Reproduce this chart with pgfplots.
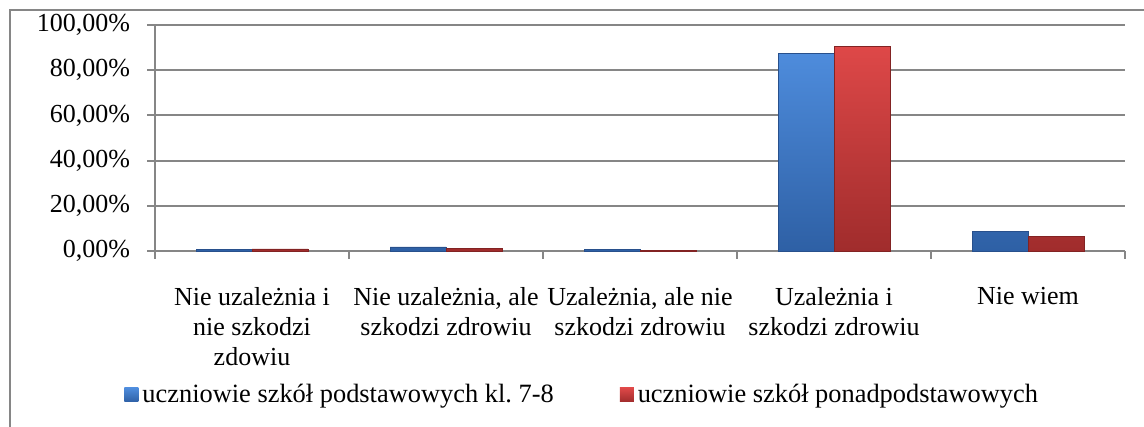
\documentclass[border=0pt]{standalone}
\usepackage{pgfplots}
\pgfplotsset{compat=1.18}
\usepackage{fontspec}
\setmainfont{Liberation Serif}
\frenchspacing
\definecolor{gridc}{RGB}{134,134,134}
\definecolor{bluetop}{RGB}{78,140,220}
\definecolor{bluebot}{RGB}{46,96,165}
\definecolor{blueedge}{RGB}{40,80,140}
\definecolor{redtop}{RGB}{222,72,72}
\definecolor{redbot}{RGB}{160,44,44}
\definecolor{rededge}{RGB}{130,35,35}
\begin{document}
\fontsize{13}{15}\selectfont
\begin{tikzpicture}
\path[use as bounding box] (0,0) rectangle (572pt,213.5pt);
\draw[gridc, line width=1pt] (5pt,0) -- (5pt,208.5pt) -- (572pt,208.5pt);
\begin{axis}[
  at={(77.5pt,88pt)}, anchor=south west,
  scale only axis, width=485pt, height=113pt,
  ybar=0pt, bar width=28pt,
  xmin=-0.5, xmax=4.5, ymin=0, ymax=100,
  xtick={0,1,2,3,4},
  xticklabels={{Nie uzależnia i\\nie szkodzi\\zdowiu},{Nie uzależnia, ale\\szkodzi zdrowiu},{Uzależnia, ale nie\\szkodzi zdrowiu},{Uzależnia i\\szkodzi zdrowiu},{Nie wiem}},
  major x tick style={draw=none},
  minor xtick={-0.5,0.5,1.5,2.5,3.5,4.5},
  minor x tick style={gridc, line width=1pt},
  minor tick length=4pt,
  major tick length=4pt,
  tick align=outside,
  xticklabel style={align=center, anchor=north, yshift=-9.5pt, font=\fontsize{13}{15}\selectfont},
  ytick={0,20,40,60,80,100},
  /pgf/number format/assume math mode=true,
  yticklabel={\pgfmathprintnumber[fixed,fixed zerofill,precision=2,use comma]{\tick}\%},
  yticklabel style={font=\fontsize{13}{15}\selectfont, xshift=-4pt},
  ymajorgrids, grid style={gridc, line width=1pt},
  y tick style={gridc, line width=1pt},
  axis line style={gridc, line width=1pt},
  axis x line*=bottom, axis y line*=left,
  legend style={at={(0.4415,-0.637)}, anchor=center, draw=none, fill=none,
    legend columns=2, font=\fontsize{13.2}{15}\selectfont,
    /tikz/every odd column/.append style={column sep=0pt},
    /tikz/every even column/.append style={column sep=31pt}},
  legend cell align=left,
  legend image code/.code={\draw[#1, draw=none] (0pt,-3.5pt) rectangle (7pt,3.5pt);},
  clip=false,
]
\addplot[top color=bluetop, bottom color=bluebot, draw=blueedge, line width=0.4pt] coordinates {(0,0.6) (1,1.8) (2,0.8) (3,87.6) (4,8.6)};
\addplot[top color=redtop, bottom color=redbot, draw=rededge, line width=0.4pt] coordinates {(0,0.9) (1,1.3) (2,0.4) (3,90.6) (4,6.6)};
\legend{uczniowie szkół podstawowych kl. 7-8, uczniowie szkół ponadpodstawowych}
\end{axis}
\end{tikzpicture}
\end{document}
